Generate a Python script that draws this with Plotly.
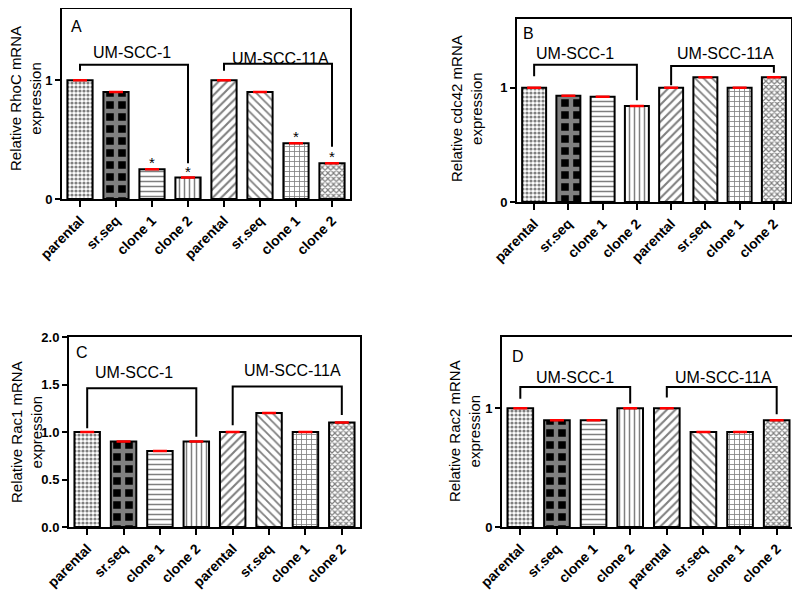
import plotly.graph_objects as go

# ---- data ----
categories = ["parental", "sr.seq", "clone 1", "clone 2",
              "parental", "sr.seq", "clone 1", "clone 2"]

rhoc = [1.0, 0.9, 0.25, 0.18, 1.0, 0.9, 0.47, 0.30]
cdc42 = [1.0, 0.93, 0.92, 0.84, 1.0, 1.09, 1.0, 1.09]
rac1 = [1.0, 0.9, 0.8, 0.9, 1.0, 1.2, 1.0, 1.1]
rac2 = [1.0, 0.9, 0.9, 1.0, 1.0, 0.8, 0.8, 0.9]

rhoc_stars = [2, 3, 6, 7]

groups = ["UM-SCC-1", "UM-SCC-11A"]

# ---- panel layout (screen pixels: left, right, top, bottom of each box) ----
panels = [
    dict(letter="A", y=rhoc, gene="RhoC", stars=rhoc_stars,
         box=(62, 350, 9, 199), yrange=[0, 1.6],
         tickvals=[0, 1], tickfmt="", title_xy=(26, 99),
         letter_xy=(-0.1, 1.45),
         brackets=[(1.13, 1.08, 0.30), (1.14, 1.08, 0.44)],
         labels=[(1.45, 1.23), (5.58, 1.18)]),
    dict(letter="B", y=cdc42, gene="cdc42", stars=[],
         box=(517, 791, 19, 202), yrange=[0, 1.6],
         tickvals=[0, 1], tickfmt="", title_xy=(466, 109),
         letter_xy=(-0.15, 1.47),
         brackets=[(1.20, 1.10, 0.89), (1.19, 1.02, 1.13)],
         labels=[(1.2, 1.30), (5.58, 1.30)]),
    dict(letter="C", y=rac1, gene="Rac1", stars=[],
         box=(69, 360, 337, 527), yrange=[0, 2.0],
         tickvals=[0, 0.5, 1.0, 1.5, 2.0], tickfmt=".1f", title_xy=(26, 432),
         letter_xy=(-0.15, 1.84),
         brackets=[(1.46, 1.04, 0.95), (1.48, 1.07, 1.18)],
         labels=[(1.3, 1.63), (5.65, 1.65)]),
    dict(letter="D", y=rac2, gene="Rac2", stars=[],
         box=(502, 795, 337, 527), yrange=[0, 1.6],
         tickvals=[0, 1], tickfmt="", title_xy=(465, 431),
         letter_xy=(-0.05, 1.44),
         brackets=[(1.18, 1.08, 1.04), (1.18, 1.09, 0.95)],
         labels=[(1.48, 1.26), (5.54, 1.26)]),
]

pat_shape = [".", "+", "-", "|", "/", "\\", "+", "x"]
pat_size = [4, 12, 5, 5, 6, 6, 5, 4]
pat_solid = [0.5, 0.6, 0.3, 0.3, 0.35, 0.3, 0.3, 0.5]
pat_fg = ["black", "white", "black", "black", "black", "black", "black", "black"]
pat_bg = ["white", "black", "white", "white", "white", "white", "white", "white"]

W, H = 800, 596
OFF = 8  # default page margin of the html body
font = "Arial, Liberation Sans, sans-serif"


def px_x(v):
    return (v - OFF) / W


def px_y(v):
    return 1 - (v - OFF) / H


fig = go.Figure()
annotations = []
shapes = []
xs = list(range(len(categories)))

for k, p in enumerate(panels):
    sfx = "" if k == 0 else str(k + 1)
    xref, yref = "x" + sfx, "y" + sfx
    l, r, t, b = p["box"]

    fig.add_trace(go.Bar(
        x=xs, y=p["y"], xaxis=xref, yaxis=yref, width=0.7,
        marker=dict(color="white", line=dict(color="black", width=2),
                    pattern=dict(shape=pat_shape, size=pat_size,
                                 solidity=pat_solid, fgcolor=pat_fg,
                                 bgcolor=pat_bg, fillmode="overlay")),
        error_y=dict(type="data", array=[0] * len(xs), color="red",
                     thickness=2.5, width=7),
        showlegend=False, hoverinfo="skip",
    ))

    fig.layout["xaxis" + sfx] = dict(
        domain=[px_x(l), px_x(r)], anchor=yref, range=[-0.5, 7.5],
        automargin=False,
        tickvals=xs, ticktext=categories, tickangle=-45,
        tickfont=dict(family=font, size=14, color="black", weight="bold"),
        ticks="outside", ticklen=6, tickwidth=2, tickcolor="black",
        showline=True, linewidth=2, linecolor="black", mirror=True,
        showgrid=False, zeroline=False)
    fig.layout["yaxis" + sfx] = dict(
        domain=[px_y(b), px_y(t)], anchor=xref, range=p["yrange"],
        automargin=False,
        tickvals=p["tickvals"], tickformat=p["tickfmt"],
        tickfont=dict(family=font, size=13, color="black", weight="bold"),
        ticks="outside", ticklen=5, tickwidth=2, tickcolor="black",
        showline=True, linewidth=2, linecolor="black", mirror=True,
        showgrid=False, zeroline=False)

    # y-axis title
    tx, ty = p["title_xy"]
    annotations.append(dict(
        x=px_x(tx), y=px_y(ty), xref="paper", yref="paper",
        xanchor="center", yanchor="middle", borderpad=0,
        text="Relative " + p["gene"] + " mRNA<br>expression", textangle=-90,
        showarrow=False, font=dict(family=font, size=15, color="black")))

    # panel letter
    lx, ly = p["letter_xy"]
    annotations.append(dict(x=lx, y=ly, xref=xref, yref=yref, text=p["letter"],
                            showarrow=False,
                            font=dict(family=font, size=16, color="black")))

    # brackets and group labels
    for g, (ytop, yl, yr) in enumerate(p["brackets"]):
        x0, x1 = xs[4 * g], xs[4 * g + 3]
        shapes.append(dict(type="path", xref=xref, yref=yref,
                           path=f"M {x0},{yl} L {x0},{ytop} L {x1},{ytop} L {x1},{yr}",
                           line=dict(color="black", width=2)))
        gx, gy = p["labels"][g]
        annotations.append(dict(x=gx, y=gy, xref=xref, yref=yref, text=groups[g],
                                showarrow=False,
                                font=dict(family=font, size=16, color="black")))

    # significance stars
    for i in p["stars"]:
        annotations.append(dict(x=xs[i], y=p["y"][i], xref=xref, yref=yref,
                                text="*", showarrow=False, yanchor="bottom",
                                yshift=-4,
                                font=dict(family=font, size=15, color="black")))

fig.update_layout(
    width=W, height=H, margin=dict(l=0, r=0, t=0, b=0),
    paper_bgcolor="white", plot_bgcolor="white",
    bargap=0.3, annotations=annotations, shapes=shapes,
)

fig.write_html("out.html")
